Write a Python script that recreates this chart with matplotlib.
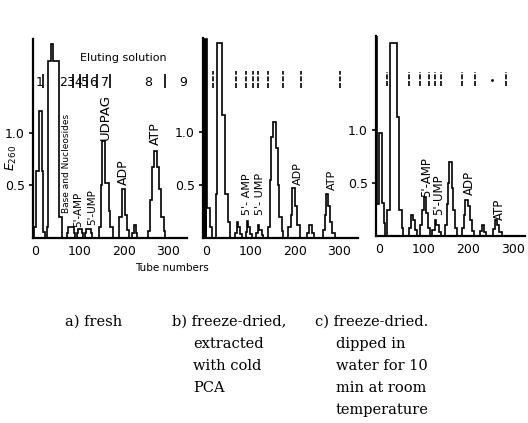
import matplotlib.pyplot as plt

# tube-number edges and E260 of each step-drawn peak, per panel
a_peak_tubes = [[-2, 3, 8, 16, 19, 22], [26, 29, 35, 41, 55, 61], [72, 75, 87, 90],
                [95, 98, 105, 108], [113, 116, 126, 129], [145, 150, 152, 159, 166, 170, 175],
                [190, 196, 203, 207, 211], [220, 223, 228, 231],
                [256, 260, 263, 269, 275, 280, 284, 290, 294]]
a_peak_E = [[0.1, 0.64, 1.21, 0.64, 0.06], [0.1, 1.68, 1.84, 1.68, 0.2], [0.05, 0.1, 0.05],
            [0.05, 0.09, 0.05], [0.05, 0.09, 0.05], [0.1, 0.5, 0.92, 0.52, 0.26, 0.1],
            [0.2, 0.47, 0.22, 0.08], [0.05, 0.12, 0.05],
            [0.07, 0.36, 0.67, 0.83, 0.67, 0.47, 0.2, 0.07]]

b_peak_tubes = [[-6, 3, 9, 13], [22, 25, 36, 42, 50, 55], [66, 69, 72, 77, 81],
                [89, 92, 95, 100, 104], [113, 116, 120, 125, 129],
                [140, 144, 147, 150, 158, 161, 165, 170, 174], [185, 190, 194, 200, 205, 212],
                [227, 231, 238, 242], [262, 267, 270, 275, 279, 284, 290]]
b_peak_E = [[1.88, 0.28, 0.1], [0.42, 1.84, 1.16, 0.42, 0.15], [0.05, 0.15, 0.1, 0.04],
            [0.06, 0.16, 0.1, 0.04], [0.05, 0.12, 0.08, 0.03],
            [0.1, 0.55, 0.95, 1.1, 0.85, 0.5, 0.2, 0.07], [0.1, 0.22, 0.47, 0.3, 0.12],
            [0.05, 0.12, 0.05], [0.08, 0.22, 0.42, 0.3, 0.15, 0.05]]

c_peak_tubes = [[-7, -4, -1, 6, 11, 14], [19, 25, 40, 46, 51, 55], [68, 72, 76, 81, 86],
                [92, 96, 100, 106, 110, 115], [120, 125, 129, 134, 139],
                [148, 152, 155, 158, 163, 167, 171, 176], [186, 190, 194, 199, 204, 209, 214],
                [228, 232, 236, 240], [256, 261, 265, 270, 276]]
c_peak_E = [[1.88, 0.3, 0.97, 0.31, 0.12], [0.25, 1.82, 1.12, 0.25, 0.08],
            [0.08, 0.2, 0.15, 0.06], [0.1, 0.25, 0.37, 0.22, 0.08], [0.06, 0.15, 0.1, 0.04],
            [0.1, 0.3, 0.5, 0.7, 0.45, 0.25, 0.08], [0.08, 0.2, 0.34, 0.28, 0.15, 0.05],
            [0.05, 0.1, 0.04], [0.07, 0.15, 0.1, 0.04]]

# the solid black first spike in b and c
b_spike = ([-6, 3], [1.88])
c_spike = ([-7, -4], [1.88])

# peak names
a_labels = ["Base and Nucleosides", "5'-AMP", "5'-UMP", "UDPAG", "ADP", "ATP"]
a_label_t = [72, 97, 129, 158, 199, 271]
a_label_E = [0.24, 0.1, 0.12, 0.93, 0.5, 0.88]
a_label_size = [6.5, 7.5, 7.5, 9.5, 9, 9]
b_labels = ["5'- AMP", "5'- UMP", "ADP", "ATP"]
b_label_t = [93, 121, 207, 283]
b_label_E = [0.22, 0.22, 0.5, 0.45]
c_labels = ["5'-AMP", "5'-UMP", "ADP", "ATP"]
c_label_t = [108, 135, 204, 270]
c_label_E = [0.37, 0.2, 0.39, 0.15]

# eluting solution changes
a_fractions = ["1", "2", "3", "4", "5", "6", "7", "8", "9"]
a_fraction_t = [11, 63, 79, 97, 113, 131, 158, 255, 334]
a_dividers = [18, 86, 102, 117, 140, 169, 293]
b_marks = [16, 67, 91, 105, 118, 140, 174, 213, 301]
c_marks = [19, 68, 92, 113, 126, 139, 187, 216, 285]
c_dot = [253]

x_ticks = [0, 100, 200, 300]
y_ticks = [0.5, 1.0]

captions = [["a) fresh"],
            ["b) freeze-dried,", "extracted", "with cold", "PCA"],
            ["c) freeze-dried.", "dipped in", "water for 10", "min at room", "temperature"]]

W, H = 528, 423
fig = plt.figure(figsize=(W / 100, H / 100), dpi=100)


def panel(left, right, bottom, top, xmin, xmax):
    ax = fig.add_axes([left / W, 1 - bottom / H, (right - left) / W, (bottom - top) / H])
    ax.set_xlim(xmin, xmax)
    ax.set_ylim(0, 1.89)
    for s in ["top", "right"]:
        ax.spines[s].set_visible(False)
    ax.spines["left"].set_linewidth(1.6)
    ax.spines["bottom"].set_linewidth(1.6)
    ax.set_xticks(x_ticks)
    ax.set_xticklabels([str(t) for t in x_ticks])
    ax.set_yticks(y_ticks)
    ax.set_yticklabels(["0.5", "1.0"])
    ax.tick_params(axis="x", length=0, pad=5, labelsize=9)
    ax.tick_params(axis="y", length=3, width=1.2, pad=3, labelsize=9)
    return ax


ax_a = panel(33, 187, 238, 39, -4.5, 343)
ax_b = panel(203, 358, 238, 38, -6.7, 341.6)
ax_c = panel(376, 525, 236, 36, -6.7, 328)

for ax, tubes, E in [(ax_a, a_peak_tubes, a_peak_E), (ax_b, b_peak_tubes, b_peak_E),
                     (ax_c, c_peak_tubes, c_peak_E)]:
    for t, e in zip(tubes, E):
        ax.stairs(e, t, color="black", lw=1.2, clip_on=False)

ax_b.stairs(b_spike[1], b_spike[0], fill=True, color="black")
ax_c.stairs(c_spike[1], c_spike[0], fill=True, color="black")

for ax, labels, ts, es, sizes in [(ax_a, a_labels, a_label_t, a_label_E, a_label_size),
                                  (ax_b, b_labels, b_label_t, b_label_E, [8] * 4),
                                  (ax_c, c_labels, c_label_t, c_label_E, [8.5] * 4)]:
    for lab, t, e, s in zip(labels, ts, es, sizes):
        ax.text(t, e, lab, rotation=90, ha="center", va="bottom", fontsize=s)

# eluting solution row
ax_a.text(199, 1.71, "Eluting solution", ha="center", va="center", fontsize=8)
for f, t in zip(a_fractions, a_fraction_t):
    ax_a.text(t, 1.48, f, ha="center", va="center", fontsize=9)
ax_a.vlines(a_dividers, 1.42, 1.56, color="black", lw=1.2)
ax_b.vlines(b_marks, 1.42, 1.58, color="black", lw=1.2, linestyles=(0, (3, 1)))
ax_c.vlines(c_marks, 1.42, 1.55, color="black", lw=1.2, linestyles=(0, (3, 1)))
ax_c.plot(c_dot, [1.47], "k.", ms=2)

fig.text(11 / W, 1 - 158 / H, r"$E_{260}$", rotation=90, ha="center", va="center", fontsize=9)
fig.text(172 / W, 1 - 268 / H, "Tube numbers", ha="center", va="center", fontsize=7.5)

# captions below the panels
cap_x = [(65, 65), (172, 193), (315, 336)]
for (x0, x1), lines in zip(cap_x, captions):
    for i, line in enumerate(lines):
        x = x0 if i == 0 else x1
        fig.text(x / W, 1 - (322 + 22 * i) / H, line, ha="left", va="center",
                 fontsize=10.5, family="DejaVu Serif")

fig.savefig("out.png", dpi=100)
